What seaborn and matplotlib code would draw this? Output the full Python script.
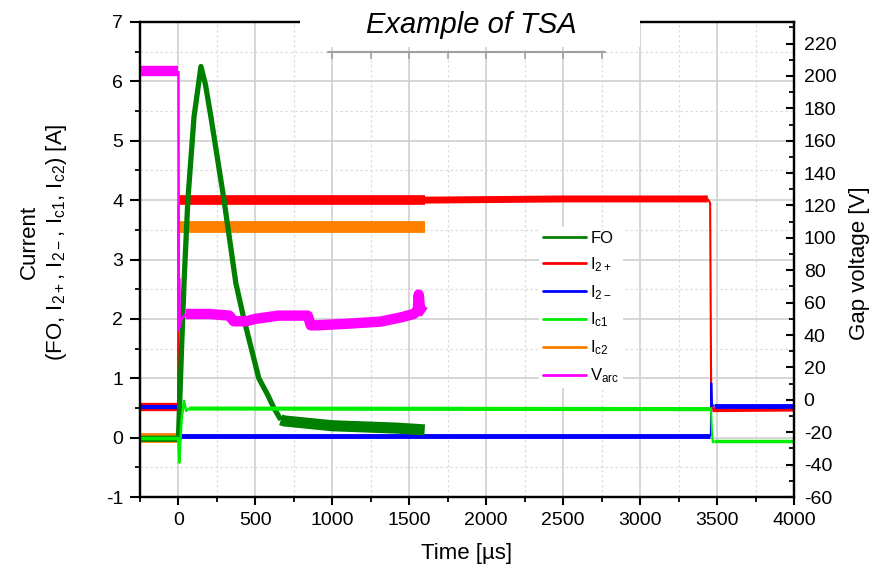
import numpy as np
import matplotlib
matplotlib.use("Agg")
import matplotlib.pyplot as plt
import seaborn as sns
from matplotlib.ticker import MultipleLocator
from matplotlib.lines import Line2D
from matplotlib.patches import Rectangle

# --- traces (time in us) ---
FO_T = [-250, -3, 0, 20, 36, 61, 101, 146, 175, 211, 296, 373, 425, 522, 580, 620, 665, 690, 730, 1000, 1420, 1600]
FO_V = [-0.02, -0.02, 0.0, 1.5, 2.6, 4.0, 5.4, 6.25, 5.95, 5.4, 4.0, 2.6, 2.0, 1.0, 0.72, 0.5, 0.3, 0.28, 0.27, 0.2, 0.16, 0.13]

I2P_T = [-250, -2, 0, 5, 1600, 2500, 3440, 3455, 3462, 3470, 4000]
I2P_V = [0.52, 0.52, 3.9, 4.0, 4.0, 4.02, 4.02, 3.95, 0.6, 0.47, 0.48]

I2M_T = [-250, -3, 0, 3, 8, 3455, 3460, 3462, 3466, 3480, 4000]
I2M_V = [0.51, 0.51, 0.2, 0.25, 0.02, 0.02, 0.05, 0.92, 0.55, 0.53, 0.53]

IC1_T = [-250, -3, 0, 5, 20, 36, 50, 70, 3455, 3460, 3466, 3472, 3480, 4000]
IC1_V = [0.0, 0.0, -0.1, -0.42, 0.3, 0.62, 0.45, 0.49, 0.48, 0.5, 0.15, -0.08, -0.05, -0.05]

IC2_T = [-250, -3, 0, 4, 1600]
IC2_V = [0.0, 0.0, 3.4, 3.55, 3.55]

VARC_T = [-250, -1, 0, 2, 4, 8, 20, 48, 200, 330, 360, 440, 500, 650, 840, 860, 900, 1100, 1313, 1450, 1528, 1555, 1561, 1570, 1600]
VARC_V = [203, 203, 203, 43, 75, 45, 50, 53, 53, 52, 48.5, 48.5, 50, 52, 52, 46, 46, 47, 48.3, 51, 53, 55, 65, 56, 54]

LABELS = ["FO", "I$_{2+}$", "I$_{2-}$", "I$_{c1}$", "I$_{c2}$", "V$_{arc}$"]
COLORS = ["#008000", "#ff0000", "#0000ff", "#00ee00", "#ff8000", "#ff00ff"]

sns.set_theme(style="white")
plt.rcParams["font.family"] = ["Liberation Sans", "DejaVu Sans"]
plt.rcParams["mathtext.default"] = "regular"
plt.rcParams["axes.unicode_minus"] = False
for key in ("text.color", "axes.labelcolor", "xtick.color", "ytick.color", "axes.edgecolor"):
    plt.rcParams[key] = "black"


def trace(ax, t, v, color, spans):
    # noisy scope bands are drawn as thick strokes, edges/jumps thin
    t = np.asarray(t, dtype=float)
    v = np.asarray(v, dtype=float)
    for t0, t1, lw in spans:
        m = (t >= t0) & (t <= t1)
        sns.lineplot(x=t[m], y=v[m], ax=ax, color=color, linewidth=lw,
                     sort=False, estimator=None, legend=False,
                     solid_capstyle="butt", solid_joinstyle="round")


fig = plt.figure(figsize=(8.85, 5.74), dpi=100)
ax = fig.add_axes([140 / 885, 1 - 497 / 574, 654 / 885, 475 / 574])
ax2 = ax.twinx()

trace(ax, IC2_T, IC2_V, COLORS[4], [(-250, -3, 7), (-3, 4, 1.5), (4, 1600, 8.5)])
trace(ax, I2P_T, I2P_V, COLORS[1], [(-250, -2, 6), (-2, 5, 1.5), (5, 1600, 7),
                                     (1600, 3440, 5), (3440, 3470, 1.5), (3470, 4000, 3.5)])
trace(ax, I2M_T, I2M_V, COLORS[2], [(-250, -3, 3), (-3, 8, 1.5), (8, 3455, 3.5),
                                     (3455, 3480, 1.5), (3480, 4000, 3.5)])
trace(ax, FO_T, FO_V, COLORS[0], [(-250, 0, 4.5), (0, 665, 3.8), (665, 1600, 8)])
trace(ax, IC1_T, IC1_V, COLORS[3], [(-250, -3, 2.5), (-3, 70, 1.8), (70, 3455, 3),
                                     (3455, 3480, 1.5), (3480, 4000, 2.5)])
trace(ax2, VARC_T, VARC_V, COLORS[5], [(-250, 0, 7.5), (0, 48, 1.8), (48, 1600, 7.5)])

# axes
ax.set_xlim(-250, 4000)
ax.set_ylim(-1, 7)
ax2.set_ylim(-60, 233.3)
ax.xaxis.set_major_locator(MultipleLocator(500))
ax.xaxis.set_minor_locator(MultipleLocator(250))
ax.yaxis.set_major_locator(MultipleLocator(1))
ax.yaxis.set_minor_locator(MultipleLocator(0.5))
ax2.set_yticks(np.arange(-60, 221, 20))
ax2.yaxis.set_minor_locator(MultipleLocator(10))

ax.grid(which="major", color="#cfcfcf", linewidth=1.2)
ax.grid(which="minor", color="#dcdcdc", linewidth=0.9, linestyle=(0, (2, 2)))
ax.set_axisbelow(True)

for a in (ax, ax2):
    for s in a.spines.values():
        s.set_color("black")
        s.set_linewidth(1.6)

ax.tick_params(axis="x", which="major", direction="out", length=6, width=1.5,
               labelsize=14, pad=5, bottom=True, top=False)
ax.tick_params(axis="x", which="minor", direction="out", length=3.5, width=1.3,
               bottom=True, top=False)
ax.tick_params(axis="y", which="major", direction="out", length=7, width=1.5,
               labelsize=14, pad=5, left=True, right=False)
ax.tick_params(axis="y", which="minor", direction="out", length=3.5, width=1.3,
               left=True, right=False)
ax2.tick_params(axis="y", which="major", direction="in", length=6, width=1.5,
                labelsize=14, pad=7, right=True)
ax2.tick_params(axis="y", which="minor", direction="in", length=3.5, width=1.3, right=True)

ax.set_xlabel("Time [µs]", fontsize=16, labelpad=10)
ax.set_ylabel("")
ax2.set_ylabel("")
fig.text(44 / 885, 1 - 242 / 574, "Current\n(FO, I$_{2+}$, I$_{2-}$, I$_{c1}$, I$_{c2}$) [A]",
         rotation=90, ha="center", va="center", multialignment="center", fontsize=16)
fig.text(860 / 885, 1 - 263 / 574, "Gap voltage [V]", rotation=90,
         ha="center", va="center", fontsize=16)

# legend
handles = [Line2D([], [], color=c, linewidth=2) for c in COLORS]
leg = ax2.legend(handles, LABELS, loc="upper left", bbox_to_anchor=(0.598, 0.585),
                 fontsize=12, frameon=True, framealpha=1, facecolor="white",
                 edgecolor="none", handlelength=2.6, handletextpad=0.25,
                 labelspacing=0.55, borderpad=0.2, fancybox=False)

# title block (white box over the top frame, grey rule beneath)
ax.plot([970, 2775], [6.5, 6.5], color="#a0a0a0", linewidth=1.5, zorder=1)
ax.vlines(np.arange(1000, 2751, 250), 6.38, 6.5, color="#a0a0a0", linewidth=1.2, zorder=1)
fig.add_artist(Rectangle((300 / 885, 1 - 47 / 574), 340 / 885, 47 / 574,
                         transform=fig.transFigure, facecolor="white",
                         edgecolor="none", zorder=5))
fig.text(471 / 885, 1 - 25 / 574, "Example of TSA", style="italic", fontsize=21,
         ha="center", va="center", zorder=6)

fig.savefig("out.png", dpi=100)
